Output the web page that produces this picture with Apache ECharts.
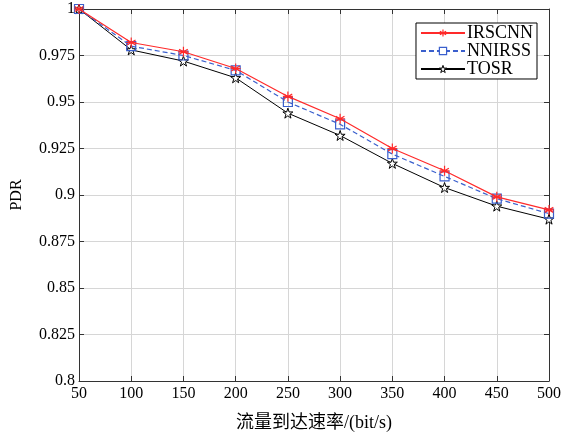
<!DOCTYPE html>
<html>
<head>
<meta charset="utf-8">
<script src="https://cdn.jsdelivr.net/npm/echarts@6/dist/echarts.min.js"></script>
<style>
  html, body { margin: 0; padding: 0; background: #fff; }
  #chart { width: 564px; height: 437px; }
</style>
</head>
<body>
<div id="chart"></div>
<script>
// 流量到达速率 (bit/s)
const rates = [50, 100, 150, 200, 250, 300, 350, 400, 450, 500]
const irscnn = [1.0, 0.982, 0.977, 0.968, 0.953, 0.941, 0.925, 0.913, 0.899, 0.892]
const nnirss = [1.0, 0.980, 0.975, 0.967, 0.950, 0.938, 0.922, 0.910, 0.898, 0.890]
const tosr = [1.0, 0.978, 0.972, 0.963, 0.944, 0.932, 0.917, 0.904, 0.894, 0.887]

const font = '"Liberation Serif", "Times New Roman", "Noto Sans CJK SC", serif'

const asterisk = 'path://M10,0L10,20M1.34,5L18.66,15M1.34,15L18.66,5M0,10L20,10'
const star = 'path://M10,0L12.35,7.24L19.51,7.24L13.58,11.71L15.88,19.02L10,14.5L4.12,19.02L6.42,11.71L0.49,7.24L7.65,7.24Z'

function pairs(ys) {
  return rates.map((x, i) => [x, ys[i]])
}

const myChart = echarts.init(document.getElementById('chart'))

const option = {
  backgroundColor: '#fff',
  animation: false,
  textStyle: { fontFamily: font },
  grid: { left: 79, right: 12, top: 9, bottom: 55 },
  legend: {
    orient: 'vertical',
    right: 27,
    top: 23,
    itemWidth: 44,
    itemHeight: 9,
    itemGap: 0,
    padding: [1, 4, 1, 4],
    backgroundColor: '#fff',
    borderColor: '#000',
    borderWidth: 1,
    borderRadius: 0,
    textStyle: { fontFamily: font, fontSize: 18, lineHeight: 17, color: '#000', padding: [0, 0, 0, -3] },
    data: [
      { name: 'IRSCNN', itemStyle: { color: 'rgba(0,0,0,0)', borderColor: '#ff2a2a', borderWidth: 1.2 } },
      { name: 'NNIRSS', itemStyle: { color: '#fff', borderColor: '#3a5fcd', borderWidth: 1.2 } },
      { name: 'TOSR', itemStyle: { color: '#fff', borderColor: '#000', borderWidth: 1 } }
    ]
  },
  xAxis: [{
    type: 'value',
    min: 50,
    max: 500,
    interval: 50,
    name: '流量到达速率/(bit/s)',
    nameLocation: 'middle',
    nameGap: 33,
    nameTextStyle: { fontFamily: font, fontSize: 18, color: '#000' },
    axisLine: { lineStyle: { color: '#333', width: 1 } },
    axisTick: { inside: true, length: 5, lineStyle: { color: '#333' } },
    axisLabel: { fontFamily: font, fontSize: 16, color: '#000', margin: 5 },
    splitLine: { show: true, lineStyle: { color: '#d6d6d6', width: 1 } }
  }, {
    type: 'value',
    position: 'top',
    min: 50,
    max: 500,
    interval: 50,
    axisLine: { show: true, lineStyle: { color: '#333', width: 1 } },
    axisTick: { show: true, inside: true, length: 5, lineStyle: { color: '#333' } },
    axisLabel: { show: false },
    splitLine: { show: false }
  }],
  yAxis: [{
    type: 'value',
    min: 0.8,
    max: 1,
    interval: 0.025,
    name: 'PDR',
    nameLocation: 'middle',
    nameGap: 54,
    nameTextStyle: { fontFamily: font, fontSize: 16, color: '#000' },
    axisLine: { show: true, lineStyle: { color: '#333', width: 1 } },
    axisTick: { show: true, inside: true, length: 5, lineStyle: { color: '#333' } },
    axisLabel: { fontFamily: font, fontSize: 16, color: '#000', margin: 4 },
    splitLine: { show: true, lineStyle: { color: '#d6d6d6', width: 1 } }
  }, {
    type: 'value',
    position: 'right',
    min: 0.8,
    max: 1,
    interval: 0.025,
    axisLine: { show: true, lineStyle: { color: '#333', width: 1 } },
    axisTick: { show: true, inside: true, length: 5, lineStyle: { color: '#333' } },
    axisLabel: { show: false },
    splitLine: { show: false }
  }],
  series: [{
    name: 'TOSR',
    type: 'line',
    data: pairs(tosr),
    symbol: star,
    symbolSize: 10,
    lineStyle: { color: '#000', width: 1 },
    itemStyle: { color: '#fff', borderColor: '#000', borderWidth: 1 },
    z: 2
  }, {
    name: 'NNIRSS',
    type: 'line',
    data: pairs(nnirss),
    symbol: 'rect',
    symbolSize: 9,
    lineStyle: { color: '#3a5fcd', width: 1.2, type: [5, 3] },
    itemStyle: { color: 'rgba(255,255,255,0)', borderColor: '#3a5fcd', borderWidth: 1.2 },
    z: 3
  }, {
    name: 'IRSCNN',
    type: 'line',
    data: pairs(irscnn),
    symbol: asterisk,
    symbolSize: 10,
    lineStyle: { color: '#ff2a2a', width: 1.2 },
    itemStyle: { color: 'rgba(0,0,0,0)', borderColor: '#ff2a2a', borderWidth: 1.2 },
    z: 4
  }]
}

myChart.setOption(option)
window.addEventListener('resize', () => myChart.resize())
</script>
</body>
</html>
